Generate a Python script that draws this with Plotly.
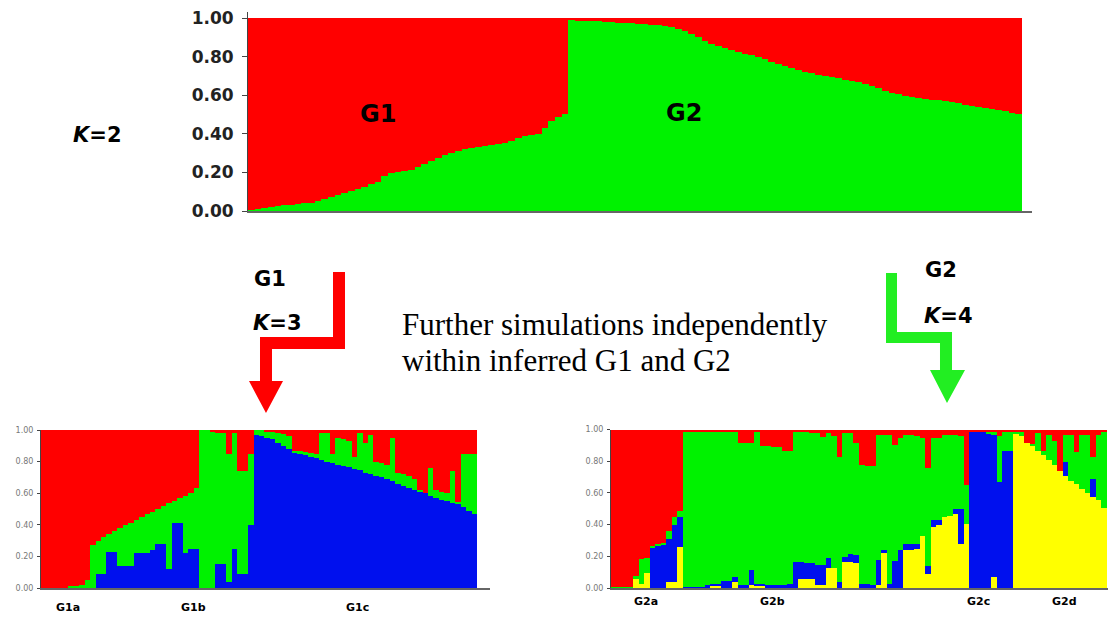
import plotly.graph_objects as go

W, H = 1111, 619

# ---------------- data ----------------
# K=2 (top): green (G2) membership per individual; red = 1 - green
top_g1_green = [0.005, 0.01, 0.015, 0.02, 0.025, 0.03, 0.03, 0.035, 0.04, 0.04,
                0.05, 0.06, 0.07, 0.08, 0.09, 0.10, 0.115, 0.125, 0.14, 0.15,
                0.18, 0.195, 0.20, 0.205, 0.21, 0.225, 0.24, 0.26, 0.275, 0.29,
                0.30, 0.31, 0.32, 0.325, 0.33, 0.335, 0.34, 0.345, 0.35, 0.36,
                0.375, 0.39, 0.395, 0.40, 0.43, 0.465, 0.485, 0.50]
top_g2_green = [0.987, 0.985, 0.984, 0.982, 0.981, 0.980, 0.978, 0.975, 0.973, 0.971,
                0.969, 0.966, 0.964, 0.962, 0.958, 0.950, 0.942, 0.930, 0.915, 0.898,
                0.880, 0.865, 0.852, 0.842, 0.833, 0.825, 0.815, 0.807, 0.797, 0.785,
                0.772, 0.760, 0.748, 0.738, 0.728, 0.719, 0.712, 0.705, 0.698, 0.692,
                0.686, 0.680, 0.675, 0.668, 0.657, 0.645, 0.634, 0.622, 0.612, 0.603,
                0.595, 0.588, 0.584, 0.580, 0.576, 0.572, 0.569, 0.562, 0.556, 0.550,
                0.544, 0.538, 0.532, 0.526, 0.520, 0.515, 0.508, 0.502]

# K=3 within G1 (bottom left): blue share, and top of green (blue+green); red = rest
g1_blue = [0, 0, 0, 0, 0, 0, 0, 0, 0, 0,
           0.09, 0.09, 0.23, 0.23, 0.14, 0.14, 0.14, 0.22, 0.22, 0.22,
           0.24, 0.28, 0.28, 0.12, 0.41, 0.41, 0.22, 0.25, 0.25, 0,
           0, 0, 0.15, 0.15, 0.04, 0.25, 0.09, 0.09, 0.40, 0.97,
           0.96, 0.95, 0.94, 0.92, 0.90, 0.88, 0.86, 0.85, 0.84, 0.83,
           0.82, 0.81, 0.80, 0.79, 0.78, 0.77, 0.765, 0.755, 0.745, 0.73,
           0.72, 0.71, 0.70, 0.69, 0.675, 0.66, 0.645, 0.63, 0.62, 0.61,
           0.60, 0.585, 0.57, 0.56, 0.55, 0.54, 0.53, 0.51, 0.49, 0.47]
g1_green_top = [0, 0, 0, 0, 0, 0.01, 0.01, 0.02, 0.05, 0.27,
                0.30, 0.32, 0.34, 0.36, 0.38, 0.40, 0.41, 0.43, 0.45, 0.47,
                0.48, 0.50, 0.52, 0.535, 0.55, 0.57, 0.58, 0.60, 0.63, 1.0,
                1.0, 0.99, 0.98, 0.98, 0.85, 0.98, 0.74, 0.74, 0.85, 1.0,
                1.0, 0.99, 0.985, 0.98, 0.975, 0.96, 0.87, 0.865, 0.86, 0.855,
                0.85, 0.98, 0.98, 0.85, 0.95, 0.94, 0.93, 0.83, 0.98, 0.92,
                0.97, 0.80, 0.79, 0.78, 0.95, 0.73, 0.72, 0.71, 0.69, 0.62,
                0.60, 0.76, 0.62, 0.61, 0.60, 0.74, 0.545, 0.85, 0.85, 0.85]
g1_labels = ["G1a", "G1b", "G1c"]

# K=4 within G2 (bottom right): cumulative tops of yellow, blue, green; red = rest
g2_yellow_top = [0, 0, 0, 0, 0.06, 0.03, 0.10, 0, 0, 0,
                 0.04, 0.04, 0.26, 0, 0, 0, 0, 0, 0.02, 0.02,
                 0, 0, 0.04, 0, 0, 0.02, 0.02, 0.02, 0, 0,
                 0, 0, 0, 0, 0.06, 0.06, 0.06, 0.02, 0.02, 0.13,
                 0.13, 0, 0.165, 0.165, 0.16, 0, 0, 0, 0.02, 0.23,
                 0, 0, 0, 0.24, 0.24, 0.25, 0.33, 0.09, 0.385, 0.40,
                 0.45, 0.46, 0.47, 0.28, 0.41, 0, 0, 0, 0, 0.07,
                 0, 0, 0, 0.98, 0.96, 0.92, 0.90, 0.87, 0.84, 0.81,
                 0.78, 0.74, 0.71, 0.68, 0.66, 0.63, 0.60, 0.58, 0.56, 0.51]
g2_blue_top = [0, 0, 0, 0, 0.06, 0.03, 0.10, 0.26, 0.27, 0.28,
               0.31, 0.40, 0.45, 0.01, 0.01, 0.01, 0.01, 0.02, 0.03, 0.03,
               0.05, 0.05, 0.07, 0.02, 0.02, 0.115, 0.03, 0.03, 0.02, 0.02,
               0.02, 0.02, 0.03, 0.165, 0.165, 0.16, 0.16, 0.15, 0.15, 0.19,
               0.13, 0.04, 0.20, 0.22, 0.21, 0.03, 0.03, 0.02, 0.18, 0.24,
               0.03, 0.175, 0.24, 0.28, 0.28, 0.28, 0.33, 0.14, 0.43, 0.43,
               0.45, 0.46, 0.50, 0.50, 0.41, 0.99, 0.99, 0.99, 0.98, 0.97,
               0.67, 0.87, 0.87, 0.98, 0.96, 0.92, 0.90, 0.87, 0.84, 0.81,
               0.78, 0.74, 0.80, 0.68, 0.66, 0.63, 0.60, 0.69, 0.56, 0.51]
g2_green_top = [0.01, 0.01, 0.01, 0.01, 0.08, 0.185, 0.19, 0.27, 0.28, 0.29,
                0.36, 0.45, 0.49, 0.99, 0.99, 0.99, 0.99, 0.99, 0.99, 0.99,
                0.99, 0.99, 0.99, 0.92, 0.92, 0.92, 0.99, 0.90, 0.90, 0.89,
                0.89, 0.87, 0.87, 0.99, 0.99, 0.99, 0.98, 0.98, 0.955, 0.98,
                0.965, 0.83, 0.98, 0.98, 0.92, 0.78, 0.77, 0.77, 0.97, 0.97,
                0.97, 0.905, 0.95, 0.97, 0.97, 0.96, 0.95, 0.76, 0.95, 0.95,
                0.97, 0.97, 0.97, 0.96, 0.65, 0.99, 0.99, 0.99, 0.99, 0.99,
                0.96, 0.99, 0.99, 0.99, 0.99, 0.92, 0.91, 0.98, 0.87, 0.97,
                0.93, 0.74, 0.97, 0.97, 0.86, 0.97, 0.97, 0.83, 0.97, 0.99]
g2_labels = ["G2a", "G2b", "G2c", "G2d"]

tick_vals = [0, 0.2, 0.4, 0.6, 0.8, 1.0]
tick_text = ["0.00", "0.20", "0.40", "0.60", "0.80", "1.00"]

RED, GREEN, BLUE, YELLOW = "#FF0000", "#00F200", "#0010EE", "#FFFF00"

# ---------------- helpers ----------------
def px(x):
    return x / W

def py(y):
    return 1 - y / H

fig = go.Figure()

def add_bars(values, color, xa, ya):
    fig.add_trace(go.Bar(x=list(range(len(values))), y=values, marker_color=color,
                         marker_line_width=0, xaxis=xa, yaxis=ya, showlegend=False,
                         hoverinfo="skip"))

# top panel
top_green = top_g1_green + top_g2_green
top_red = [1 - g for g in top_green]
add_bars(top_green, GREEN, "x", "y")
add_bars(top_red, RED, "x", "y")

# bottom-left panel
bl_blue = g1_blue
bl_green = [t - b for t, b in zip(g1_green_top, g1_blue)]
bl_red = [1 - t for t in g1_green_top]
add_bars(bl_blue, BLUE, "x2", "y2")
add_bars(bl_green, GREEN, "x2", "y2")
add_bars(bl_red, RED, "x2", "y2")

# bottom-right panel
br_yellow = g2_yellow_top
br_blue = [b - y for b, y in zip(g2_blue_top, g2_yellow_top)]
br_green = [g - b for g, b in zip(g2_green_top, g2_blue_top)]
br_red = [1 - g for g in g2_green_top]
add_bars(br_yellow, YELLOW, "x3", "y3")
add_bars(br_blue, BLUE, "x3", "y3")
add_bars(br_green, GREEN, "x3", "y3")
add_bars(br_red, RED, "x3", "y3")

def xaxis_for(n, x0, x1, xend, anchor):
    ppu = (x1 - x0) / n
    return dict(domain=[px(x0), px(xend)], range=[-0.5, n - 0.5 + (xend - x1) / ppu],
                anchor=anchor, automargin=False,
                showline=True, linecolor="#666", linewidth=2, showgrid=False,
                zeroline=False, showticklabels=False, ticks="", fixedrange=True)

def yaxis_for(y0, y1, top, size, color, ticklen, standoff, bold, anchor):
    ppu = (y0 - y1)
    ttext = [f"<b>{t}</b>" for t in tick_text] if bold else tick_text
    return dict(domain=[py(y0), py(y1 - (top - 1) * ppu)], range=[0, top],
                anchor=anchor, automargin=False,
                showline=True, linecolor="#444", linewidth=1, showgrid=False,
                zeroline=False, tickvals=tick_vals, ticktext=ttext, ticks="outside",
                ticklen=ticklen, tickcolor="#444", ticklabelstandoff=standoff,
                tickfont=dict(family="DejaVu Sans", size=size, color=color),
                fixedrange=True)

n_top = len(top_green)
n_bl = len(bl_blue)
n_br = len(br_yellow)

fig.update_layout(
    template="none",
    width=W, height=H, autosize=False,
    margin=dict(l=0, r=0, t=0, b=0, pad=0, autoexpand=False),
    paper_bgcolor="white", plot_bgcolor="white",
    barmode="stack", bargap=0, showlegend=False,
    xaxis=xaxis_for(n_top, 248, 1022, 1032, "y"),
    yaxis=yaxis_for(211, 18, 1.03, 17, "#222", 5, 5, True, "x"),
    xaxis2=xaxis_for(n_bl, 41, 477, 490, "y2"),
    yaxis2=yaxis_for(588, 430, 1.0, 8, "#777", 3, 2, False, "x2"),
    xaxis3=xaxis_for(n_br, 611, 1107, 1108, "y3"),
    yaxis3=yaxis_for(588, 429.5, 1.0, 8, "#777", 3, 2, False, "x3"),
)

def ann(text, x, y, size, family="DejaVu Sans", color="black", xanchor="center"):
    fig.add_annotation(text=text, x=px(x), y=py(y), xref="paper", yref="paper",
                       showarrow=False, xanchor=xanchor, yanchor="middle",
                       font=dict(family=family, size=size, color=color))

ann("<b><i>K</i>=2</b>", 97, 135, 21)
ann("<b>G1</b>", 378, 114, 24)
ann("<b>G2</b>", 684, 113, 24)
ann("<b>G1</b>", 270, 279, 21)
ann("<b><i>K</i>=3</b>", 277, 323, 21)
ann("<b>G2</b>", 941, 270, 21)
ann("<b><i>K</i>=4</b>", 948, 316, 21)
ann("Further simulations independently", 400, 324, 31, family="Liberation Serif", xanchor="left")
ann("within inferred G1 and G2", 400, 360, 31, family="Liberation Serif", xanchor="left")

for lab, xc in zip(g1_labels, [68, 193, 357]):
    ann(f"<b>{lab}</b>", xc, 607, 11)
for lab, xc in zip(g2_labels, [646, 772, 978, 1064]):
    ann(f"<b>{lab}</b>", xc, 601, 11)

def poly(points, color):
    d = "M " + " L ".join(f"{px(x):.5f},{py(y):.5f}" for x, y in points) + " Z"
    fig.add_shape(type="path", path=d, xref="paper", yref="paper",
                  fillcolor=color, line=dict(width=0), layer="above")

poly([(333, 272), (345, 272), (345, 349), (272, 349), (272, 381), (283, 381),
      (266, 413), (249, 381), (260, 381), (260, 337), (333, 337)], RED)
poly([(886, 273), (897, 273), (897, 332), (952, 332), (952, 370), (965, 370),
      (947, 403), (930, 370), (940, 370), (940, 343), (886, 343)], "#22EE22")

post = (
    "document.body.style.margin='0';"
    "document.body.style.overflow='hidden';"
)
fig.write_html("out.html", config={"displayModeBar": False}, post_script=post)
